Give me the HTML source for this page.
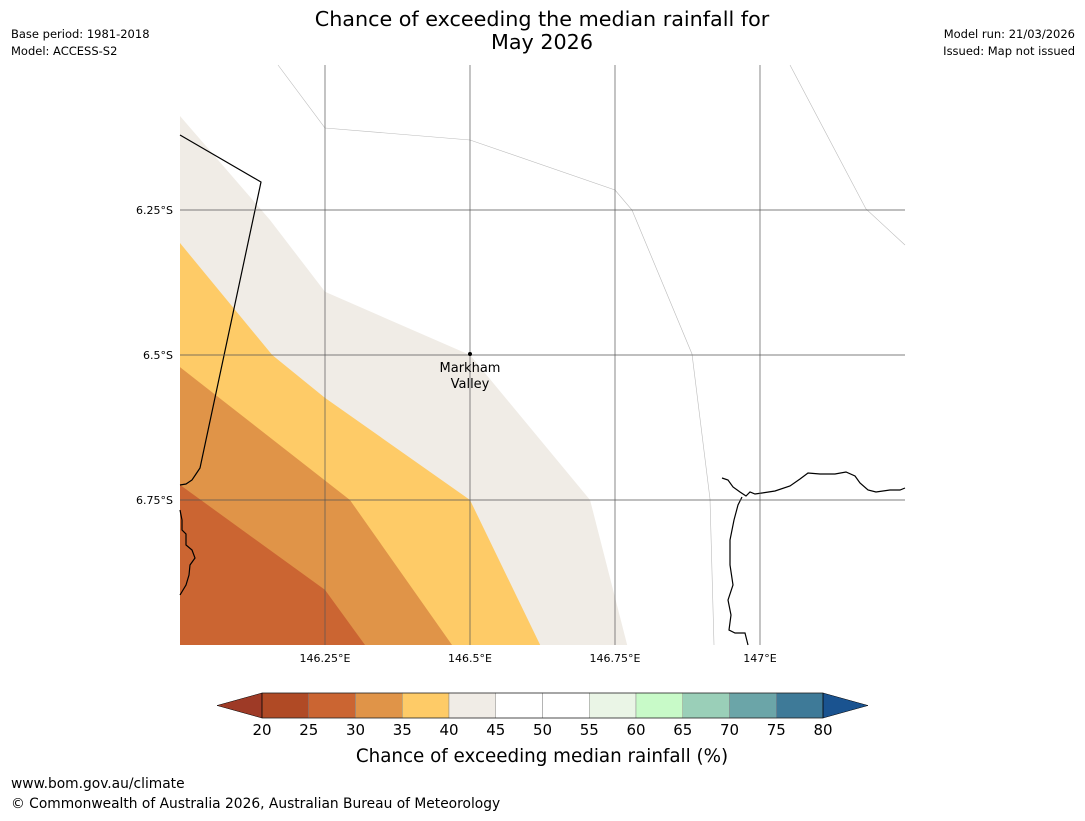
<!DOCTYPE html>
<html><head><meta charset="utf-8"><style>
body{margin:0;background:#fff;font-family:"Liberation Sans","DejaVu Sans",sans-serif}
svg text{font-family:"DejaVu Sans","Liberation Sans",sans-serif}
</style></head><body>
<svg id="chart" width="1085" height="816" viewBox="0 0 1085 816" xmlns="http://www.w3.org/2000/svg">
<text x="542" y="26" font-size="20.7" text-anchor="middle">Chance of exceeding the median rainfall for</text>
<text x="542" y="49" font-size="20.7" text-anchor="middle">May 2026</text>
<text x="11" y="38" font-size="11.5">Base period: 1981-2018</text>
<text x="11" y="55" font-size="11.5">Model: ACCESS-S2</text>
<text x="1075" y="38" font-size="11.5" text-anchor="end">Model run: 21/03/2026</text>
<text x="1075" y="55" font-size="11.5" text-anchor="end">Issued: Map not issued</text>
<g id="bands"></g>
<g fill="none">
<polyline points="278,65 325,128 470,140 615,190 632,210 692,354 710,499 714,645" stroke="#bbb" stroke-width="0.6"/>
<polyline points="790,65 866,209 905,245" stroke="#bbb" stroke-width="0.6"/>
<polyline points="180,135 261,182 200,468 196,474 192,480 186,484 180,485" stroke="#000" stroke-width="1.2"/>
<polyline points="180,510 182,520 182,530 186,534 186,545 192,550 195,558 190,565 189,575 186,585 180,595" stroke="#000" stroke-width="1.2"/>
<polyline points="722,478 728,480 733,487 740,492 746,496 750,492 755,494 762,493 775,491 790,486 800,479 808,473 820,474 835,474 846,472 855,476 860,483 868,490 876,492 890,490 900,490 905,488" stroke="#000" stroke-width="1.2"/>
<polyline points="742,497 738,505 734,520 730,540 730,565 733,585 728,600 731,615 729,630 735,633 745,633 748,645" stroke="#000" stroke-width="1.2"/>
</g>
<g id="grid"></g>
<g>
<circle cx="470" cy="354" r="2" fill="#000"/>
<text x="470" y="372" font-size="13" text-anchor="middle">Markham</text>
<text x="470" y="388" font-size="13" text-anchor="middle">Valley</text>
</g>
<g id="cbar"></g>
<text x="542" y="762" font-size="18.3" text-anchor="middle">Chance of exceeding median rainfall (%)</text>
<text x="11" y="788" font-size="13.8">www.bom.gov.au/climate</text>
<text x="11" y="808" font-size="13.8">© Commonwealth of Australia 2026, Australian Bureau of Meteorology</text>
</svg>
<script>
const NS='http://www.w3.org/2000/svg';
// contour band top boundaries (lon E, lat S)
const band40Lon=[146.0,146.155,146.25,146.5,146.707,146.771];
const band40Lat=[6.088,6.267,6.391,6.5,6.75,7.0];
const band35Lon=[146.0,146.159,146.25,146.5,146.621];
const band35Lat=[6.307,6.5,6.574,6.75,7.0];
const band30Lon=[146.0,146.293,146.469];
const band30Lat=[6.521,6.75,7.0];
const band25Lon=[146.0,146.25,146.319];
const band25Lat=[6.724,6.905,7.0];
const lonTicks=[146.25,146.5,146.75,147.0];
const lonLabels=['146.25°E','146.5°E','146.75°E','147°E'];
const latTicks=[6.25,6.5,6.75];
const latLabels=['6.25°S','6.5°S','6.75°S'];
const cbLevels=[20,25,30,35,40,45,50,55,60,65,70,75,80];
const cbColors=['#b04a25','#cb6532','#e09448','#fecb67','#f0ece6','#ffffff','#ffffff','#eaf5e6','#c8fac8','#9acfb8','#6ba5a8','#3e7a98'];
const lon0=146.0,lon1=147.25,lat0=6.0,lat1=7.0,X0=180,X1=905,Y0=65,Y1=645;
const xs=l=>X0+(l-lon0)/(lon1-lon0)*(X1-X0);
const ys=l=>Y0+(l-lat0)/(lat1-lat0)*(Y1-Y0);
const bands=document.getElementById('bands');
[[band40Lon,band40Lat,'#f0ece6','band-40-45'],[band35Lon,band35Lat,'#fecb67','band-35-40'],[band30Lon,band30Lat,'#e09448','band-30-35'],[band25Lon,band25Lat,'#cb6532','band-25-30']].forEach(b=>{
 const p=document.createElementNS(NS,'polygon');
 let pts=b[0].map((l,i)=>xs(l)+','+ys(b[1][i]));
 pts.push(xs(lon0)+','+ys(lat1));
 p.setAttribute('points',pts.join(' '));
 p.setAttribute('fill',b[2]);
 
 
 bands.appendChild(p);
});
const grid=document.getElementById('grid');
lonTicks.forEach((l,i)=>{
 const ln=document.createElementNS(NS,'line');
 ln.setAttribute('x1',xs(l));ln.setAttribute('x2',xs(l));ln.setAttribute('y1',Y0);ln.setAttribute('y2',Y1);
 ln.setAttribute('stroke','#555');ln.setAttribute('stroke-width','0.7');
 
 
 grid.appendChild(ln);
 const t=document.createElementNS(NS,'text');
 t.setAttribute('x',xs(l));t.setAttribute('y',Y1+17);t.setAttribute('font-size','11');t.setAttribute('text-anchor','middle');
 t.textContent=lonLabels[i];
 
 
 grid.appendChild(t);
});
latTicks.forEach((l,i)=>{
 const ln=document.createElementNS(NS,'line');
 ln.setAttribute('x1',X0);ln.setAttribute('x2',X1);ln.setAttribute('y1',ys(l));ln.setAttribute('y2',ys(l));
 ln.setAttribute('stroke','#555');ln.setAttribute('stroke-width','0.7');
 
 
 grid.appendChild(ln);
 const t=document.createElementNS(NS,'text');
 t.setAttribute('x',X0-7);t.setAttribute('y',ys(l)+4);t.setAttribute('font-size','11');t.setAttribute('text-anchor','end');
 t.textContent=latLabels[i];
 
 
 grid.appendChild(t);
});
const cb=document.getElementById('cbar');
const CX0=262,CX1=823,CY0=693,CY1=718;
const cx=v=>CX0+(v-cbLevels[0])/(cbLevels[cbLevels.length-1]-cbLevels[0])*(CX1-CX0);
cbColors.forEach((c,i)=>{
 const r=document.createElementNS(NS,'rect');
 r.setAttribute('x',cx(cbLevels[i]));r.setAttribute('y',CY0);
 r.setAttribute('width',cx(cbLevels[i+1])-cx(cbLevels[i]));r.setAttribute('height',CY1-CY0);
 r.setAttribute('fill',c);r.setAttribute('stroke','#888');r.setAttribute('stroke-width','0.5');
 
 
 cb.appendChild(r);
});
const lt=document.createElementNS(NS,'polygon');
lt.setAttribute('points',`${CX0},${CY0} ${CX0},${CY1} 217,${(CY0+CY1)/2}`);lt.setAttribute('fill','#9e3a26');lt.setAttribute('stroke','#000');lt.setAttribute('stroke-width','0.5');


cb.appendChild(lt);
const rt=document.createElementNS(NS,'polygon');
rt.setAttribute('points',`${CX1},${CY0} ${CX1},${CY1} 868,${(CY0+CY1)/2}`);rt.setAttribute('fill','#1a5390');rt.setAttribute('stroke','#000');rt.setAttribute('stroke-width','0.5');


cb.appendChild(rt);
const fr=document.createElementNS(NS,'rect');
fr.setAttribute('x',CX0);fr.setAttribute('y',CY0);fr.setAttribute('width',CX1-CX0);fr.setAttribute('height',CY1-CY0);fr.setAttribute('fill','none');fr.setAttribute('stroke','#000');fr.setAttribute('stroke-width','0.6');


cb.appendChild(fr);
cbLevels.forEach(v=>{
 const t=document.createElementNS(NS,'text');
 t.setAttribute('x',cx(v));t.setAttribute('y',735);t.setAttribute('font-size','15');t.setAttribute('text-anchor','middle');
 t.textContent=v;
 
 
 cb.appendChild(t);
});
</script>
</body></html>
